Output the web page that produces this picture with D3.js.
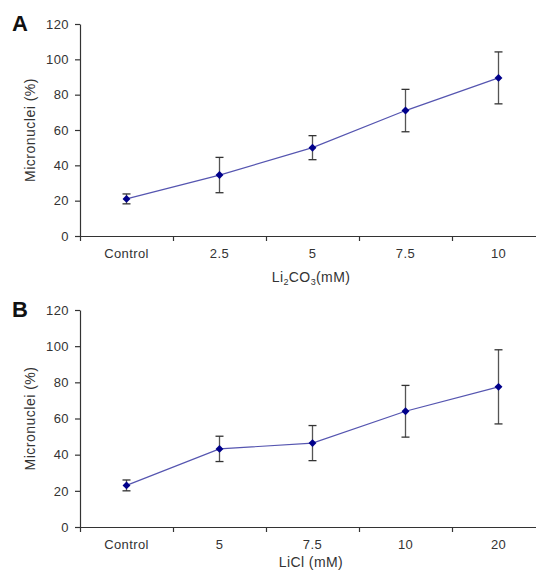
<!DOCTYPE html>
<html>
<head>
<meta charset="utf-8">
<script src="https://cdn.jsdelivr.net/npm/d3@7"></script>
<style>
  body { margin: 0; background: #fff; }
  svg { display: block; font-family: "Liberation Sans", Arial, sans-serif; }
  .axis path, .axis line { stroke: #333; stroke-width: 1.2; }
  .axis text { fill: #333; font-size: 13px; letter-spacing: 0.4px; }
</style>
</head>
<body>
<svg id="chart" width="536" height="572"></svg>
<script>
// panel A: Li2CO3
const catsA = ['Control', '2.5', '5', '7.5', '10'];
const meanA = [21, 34.5, 50, 71, 89.5];
const errA = [2.8, 10, 6.8, 12, 14.7];

// panel B: LiCl
const catsB = ['Control', '5', '7.5', '10', '20'];
const meanB = [23, 43.2, 46.4, 64, 77.5];
const errB = [3, 7, 9.7, 14.3, 20.5];

const yTicks = [0, 20, 40, 60, 80, 100, 120];

const svg = d3.select('#chart');

function drawPanel(opts) {
  const { letter, cats, mean, err, top, bottom, titleY, xTitle } = opts;
  const left = 80, right = 545;

  const x = d3.scaleBand().domain(cats).range([left, right]);
  const xEdge = d3.scaleLinear().domain([0, cats.length]).range([left, right]);
  const y = d3.scaleLinear().domain([0, 120]).range([bottom, top]);

  const g = svg.append('g');

  // y axis
  g.append('g')
    .attr('class', 'axis')
    .attr('transform', `translate(${left},0)`)
    .call(d3.axisLeft(y).tickValues(yTicks).tickSize(5).tickSizeOuter(0).tickPadding(6));

  // x axis: ticks on category boundaries
  g.append('g')
    .attr('class', 'axis')
    .attr('transform', `translate(0,${bottom})`)
    .call(d3.axisBottom(xEdge).ticks(cats.length).tickSize(5).tickSizeOuter(0).tickFormat(''));

  // x labels centred in each band
  g.append('g')
    .attr('class', 'axis')
    .attr('transform', `translate(0,${bottom})`)
    .call(d3.axisBottom(x).tickSize(0).tickPadding(13))
    .call(a => a.select('.domain').remove());

  // letter
  g.append('text')
    .attr('x', 12).attr('y', top + 7)
    .attr('font-size', 22).attr('font-weight', 'bold')
    .attr('fill', '#111')
    .text(letter);

  // y title
  g.append('text')
    .attr('transform', `translate(35,${(top + bottom) / 2}) rotate(-90)`)
    .attr('text-anchor', 'middle')
    .attr('font-size', 14).attr('letter-spacing', 0.5).attr('fill', '#333')
    .text('Micronuclei (%)');

  // x title
  xTitle(g.append('text')
    .attr('x', 311).attr('y', titleY)
    .attr('text-anchor', 'middle')
    .attr('font-size', 14).attr('letter-spacing', 0.4).attr('fill', '#333'));

  const cx = (d, i) => x(cats[i]) + x.bandwidth() / 2;

  // connecting line
  g.append('path')
    .datum(mean)
    .attr('fill', 'none')
    .attr('stroke', '#5555b0')
    .attr('stroke-width', 1.2)
    .attr('d', d3.line().x(cx).y(d => y(d)));

  // error bars
  const eb = g.selectAll('.eb').data(mean).enter().append('g').attr('class', 'eb');
  eb.append('line')
    .attr('x1', cx).attr('x2', cx)
    .attr('y1', (d, i) => y(d + err[i])).attr('y2', (d, i) => y(d - err[i]))
    .attr('stroke', '#555').attr('stroke-width', 1.3);
  eb.append('line')
    .attr('x1', (d, i) => cx(d, i) - 4).attr('x2', (d, i) => cx(d, i) + 4)
    .attr('y1', (d, i) => y(d + err[i])).attr('y2', (d, i) => y(d + err[i]))
    .attr('stroke', '#333').attr('stroke-width', 1.3);
  eb.append('line')
    .attr('x1', (d, i) => cx(d, i) - 4).attr('x2', (d, i) => cx(d, i) + 4)
    .attr('y1', (d, i) => y(d - err[i])).attr('y2', (d, i) => y(d - err[i]))
    .attr('stroke', '#333').attr('stroke-width', 1.3);

  // diamond markers
  g.selectAll('.pt').data(mean).enter().append('path')
    .attr('class', 'pt')
    .attr('d', d3.symbol().type(d3.symbolDiamond2).size(40))
    .attr('transform', (d, i) => `translate(${cx(d, i)},${y(d)})`)
    .attr('fill', '#00008b');
}

drawPanel({
  letter: 'A', cats: catsA, mean: meanA, err: errA, top: 24, bottom: 236, titleY: 282,
  xTitle: t => {
    t.append('tspan').text('Li');
    t.append('tspan').attr('font-size', 9).attr('dy', 3).text('2');
    t.append('tspan').attr('dy', -3).text('CO');
    t.append('tspan').attr('font-size', 9).attr('dy', 3).text('3');
    t.append('tspan').attr('dy', -3).text('(mM)');
  }
});

drawPanel({
  letter: 'B', cats: catsB, mean: meanB, err: errB, top: 310, bottom: 527, titleY: 567,
  xTitle: t => t.text('LiCl (mM)')
});
</script>
</body>
</html>
